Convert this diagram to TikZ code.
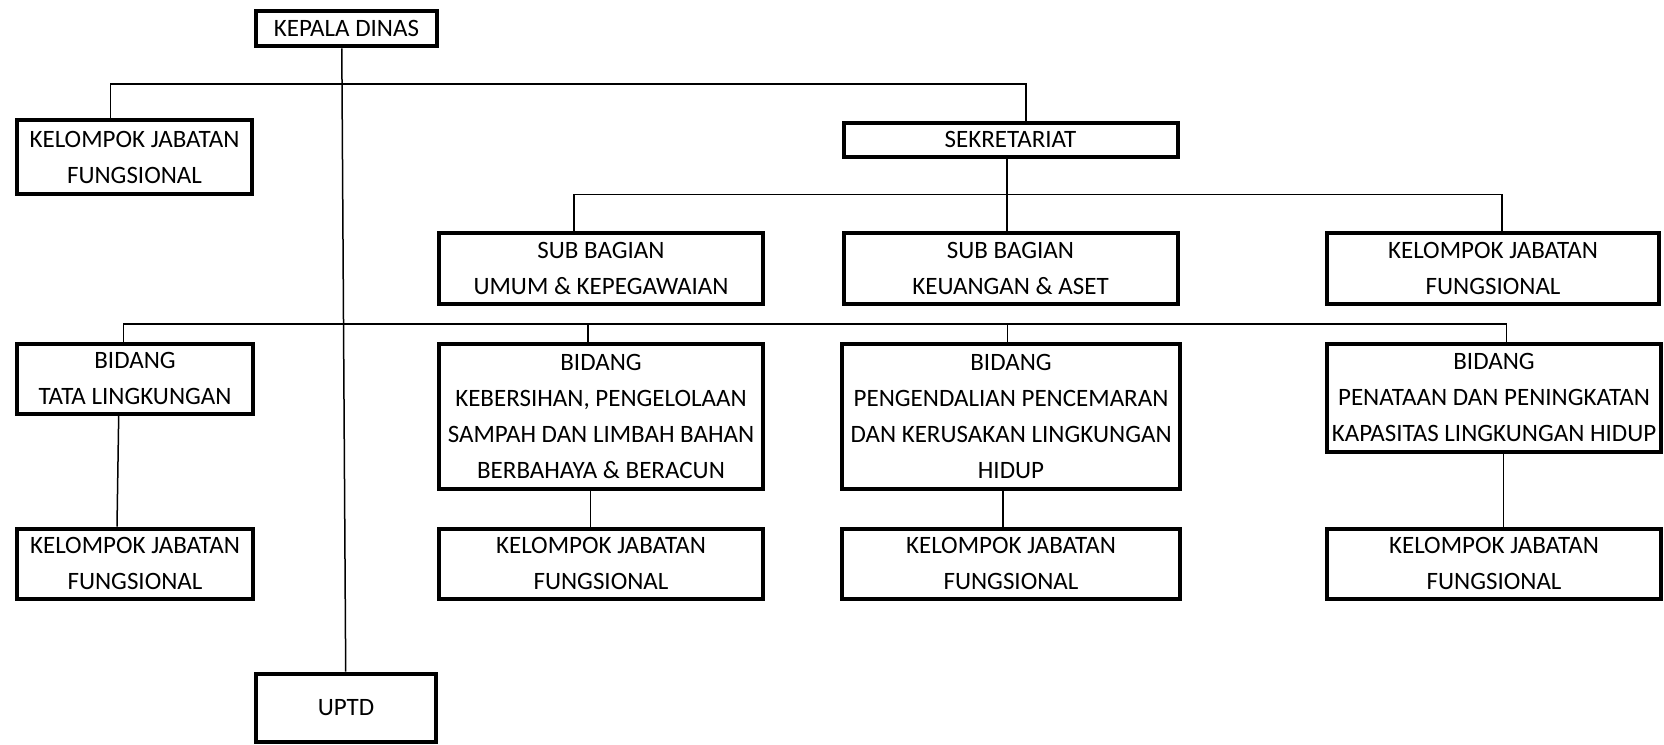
\documentclass[tikz,border=0pt]{standalone}
\usepackage{fontspec}
\setmainfont{Carlito}
\begin{document}
\begin{tikzpicture}[x=1pt,y=-1pt,
  box/.style={draw, line width=4pt, rectangle, inner sep=0pt, align=center,
              font=\fontsize{25}{36}\selectfont},
  conn/.style={line width=1.5pt}]
\useasboundingbox (0,0) rectangle (1664,744);
% boxes
\node[box, minimum width=181pt, minimum height=35pt] (kd) at (346.5,28.8) {KEPALA DINAS};
\node[box, minimum width=235pt, minimum height=74pt] (kjf0) at (134.5,157.2) {KELOMPOK JABATAN\\FUNGSIONAL};
\node[box, minimum width=334pt, minimum height=34pt] (sek) at (1010.5,139.5) {SEKRETARIAT};
\node[box, minimum width=324pt, minimum height=71pt] (sbu) at (601,268.4) {SUB BAGIAN\\UMUM \& KEPEGAWAIAN};
\node[box, minimum width=334pt, minimum height=71pt] (sbk) at (1010.5,268.4) {SUB BAGIAN\\KEUANGAN \& ASET};
\node[box, minimum width=332pt, minimum height=71pt] (kjf1) at (1493,268.4) {KELOMPOK JABATAN\\FUNGSIONAL};
\node[box, minimum width=236pt, minimum height=70pt] (btl) at (135,378.7) {BIDANG\\TATA LINGKUNGAN};
\node[box, minimum width=324pt, minimum height=145pt] (bkp) at (601,416.2) {BIDANG\\KEBERSIHAN, PENGELOLAAN\\SAMPAH DAN LIMBAH BAHAN\\BERBAHAYA \& BERACUN};
\node[box, minimum width=338pt, minimum height=145pt] (bpp) at (1011,416.2) {BIDANG\\PENGENDALIAN PENCEMARAN\\DAN KERUSAKAN LINGKUNGAN\\HIDUP};
\node[box, minimum width=334pt, minimum height=108pt] (bpn) at (1494,397.5) {BIDANG\\PENATAAN DAN PENINGKATAN\\KAPASITAS LINGKUNGAN HIDUP};
\node[box, minimum width=236pt, minimum height=70pt] (kjf2) at (135,563.7) {KELOMPOK JABATAN\\FUNGSIONAL};
\node[box, minimum width=324pt, minimum height=70pt] (kjf3) at (601,563.7) {KELOMPOK JABATAN\\FUNGSIONAL};
\node[box, minimum width=338pt, minimum height=70pt] (kjf4) at (1011,563.7) {KELOMPOK JABATAN\\FUNGSIONAL};
\node[box, minimum width=334pt, minimum height=70pt] (kjf5) at (1494,563.7) {KELOMPOK JABATAN\\FUNGSIONAL};
\node[box, minimum width=180pt, minimum height=68pt] (uptd) at (346,707.5) {UPTD};
% junction coordinates
\coordinate (h1l) at (110.7,84);
\coordinate (h1r) at (1026,84);
\coordinate (h2l) at (574,194.3);
\coordinate (h2m) at (1006.8,194.3);
\coordinate (h2r) at (1502,194.3);
\coordinate (h3l) at (123.3,324);
\coordinate (h3a) at (587.8,324);
\coordinate (h3b) at (1007.7,324);
\coordinate (h3r) at (1506.7,324);
% connectors
\draw[conn] ([xshift=-4.7pt]kd.south) -- ([xshift=-0.3pt]uptd.north);
\draw[conn] (kjf0.north -| h1l) -- (h1l) -- (h1r) -- (sek.north -| h1r);
\draw[conn] (sek.south -| h2m) -- (sbk.north -| h2m);
\draw[conn] (sbu.north -| h2l) -- (h2l) -- (h2r) -- (kjf1.north -| h2r);
\draw[conn] (btl.north -| h3l) -- (h3l) -- (h3r) -- (bpn.north -| h3r);
\draw[conn] (h3a) -- (bkp.north -| h3a);
\draw[conn] (h3b) -- (bpp.north -| h3b);
\draw[conn] ([xshift=-16.3pt]btl.south) -- ([xshift=-18pt]kjf2.north);
\draw[conn] ([xshift=-10.7pt]bkp.south) -- ([xshift=-10.7pt]kjf3.north);
\draw[conn] ([xshift=-8pt]bpp.south) -- ([xshift=-8pt]kjf4.north);
\draw[conn] ([xshift=9.3pt]bpn.south) -- ([xshift=9.3pt]kjf5.north);
\end{tikzpicture}
\end{document}
